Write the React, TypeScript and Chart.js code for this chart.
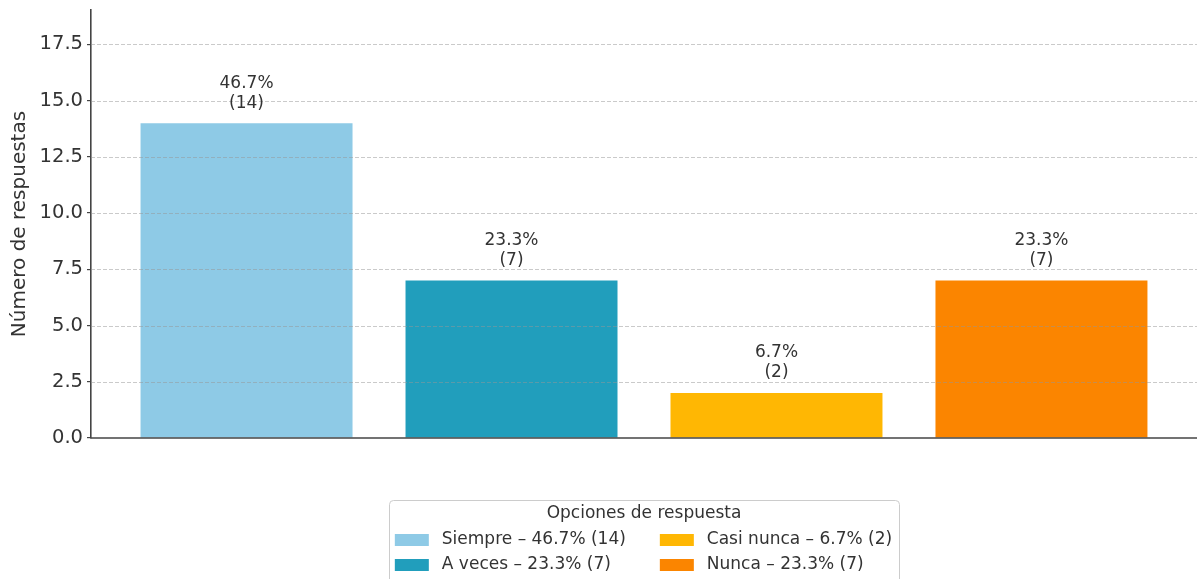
import React, { useEffect, useRef } from "react";
import { Chart, registerables } from "chart.js";

Chart.register(...registerables);

const categories = ["Siempre", "A veces", "Casi nunca", "Nunca"];
const counts = [14, 7, 2, 7];
const barColors = ["#8ECAE6", "#219EBC", "#FFB703", "#FB8500"];
const yAxisTitle = "Número de respuestas";
const legendTitle = "Opciones de respuesta";
const yMin = 0;
const yMax = 19.03;
const yStep = 2.5;
const xMin = -0.587;
const xMax = 3.587;

const FONT = "'DejaVu Sans', sans-serif";
const TEXT = "#333333";

const total = counts.reduce((a, b) => a + b, 0);
const pctText = (c: number) => ((c / total) * 100).toFixed(1) + "%";

const overlayPlugin = {
  id: "overlay",
  afterDatasetsDraw(chart: any) {
    const { ctx, chartArea } = chart;
    const ys = chart.scales.y;
    ctx.save();
    // dashed grid lines over bars
    ctx.strokeStyle = "rgba(150,150,150,0.5)";
    ctx.lineWidth = 1;
    ctx.setLineDash([4, 2]);
    ys.ticks.forEach((t: any) => {
      if (t.value === 0) return;
      const py = Math.round(ys.getPixelForValue(t.value)) + 0.5;
      ctx.beginPath();
      ctx.moveTo(chartArea.left, py);
      ctx.lineTo(chartArea.right, py);
      ctx.stroke();
    });
    ctx.setLineDash([]);
    // bottom axis line
    ctx.strokeStyle = "#444444";
    ctx.lineWidth = 1.6;
    const by = ys.getPixelForValue(0);
    ctx.beginPath();
    ctx.moveTo(chartArea.left - 0.8, by);
    ctx.lineTo(chartArea.right, by);
    ctx.stroke();
    // value labels
    const meta = chart.getDatasetMeta(0);
    ctx.fillStyle = TEXT;
    ctx.font = `17px ${FONT}`;
    ctx.textAlign = "center";
    ctx.textBaseline = "middle";
    meta.data.forEach((el: any, i: number) => {
      ctx.fillText(pctText(counts[i]), el.x, el.y - 40);
      ctx.fillText(`(${counts[i]})`, el.x, el.y - 20);
    });
    ctx.restore();
  },
  afterDraw(chart: any) {
    const { ctx, chartArea } = chart;
    ctx.save();
    ctx.font = `17px ${FONT}`;
    const labels = categories.map((c, i) => `${c} – ${pctText(counts[i])} (${counts[i]})`);
    // column-major, 2 columns x 2 rows
    const col1 = [0, 1];
    const col2 = [2, 3];
    const w1 = Math.max(...col1.map((i) => ctx.measureText(labels[i]).width));
    const w2 = Math.max(...col2.map((i) => ctx.measureText(labels[i]).width));
    const padL = 6, patchW = 34, patchGap = 13, colGap = 34, padR = 7;
    const boxW = padL + patchW + patchGap + w1 + colGap + patchW + patchGap + w2 + padR;
    const cx = (chartArea.left + chartArea.right) / 2;
    const bx = cx - boxW / 2;
    const by = chartArea.bottom + 62;
    const bh = 120;
    // box
    ctx.fillStyle = "rgba(255,255,255,0.9)";
    ctx.strokeStyle = "#cccccc";
    ctx.lineWidth = 1;
    ctx.beginPath();
    (ctx as any).roundRect(Math.round(bx) + 0.5, Math.round(by) + 0.5, Math.round(boxW), bh, 4);
    ctx.fill();
    ctx.stroke();
    // title
    ctx.fillStyle = TEXT;
    ctx.textAlign = "center";
    ctx.textBaseline = "middle";
    ctx.fillText(legendTitle, cx, by + 14);
    // items
    ctx.textAlign = "left";
    const rowY = [by + 40, by + 65];
    const colX = [bx + padL, bx + padL + patchW + patchGap + w1 + colGap];
    [col1, col2].forEach((col, ci) => {
      col.forEach((idx, ri) => {
        const x0 = colX[ci];
        const y0 = rowY[ri];
        ctx.fillStyle = barColors[idx];
        ctx.fillRect(x0, y0 - 6, patchW, 12);
        ctx.fillStyle = TEXT;
        ctx.fillText(labels[idx], x0 + patchW + patchGap, y0);
      });
    });
    ctx.restore();
  },
};

export default function App() {
  const ref = useRef<HTMLCanvasElement>(null);
  useEffect(() => {
    if (!ref.current) return;
    const chart = new Chart(ref.current, {
      type: "bar",
      data: {
        datasets: [
          {
            label: "Respuestas",
            data: counts.map((v, i) => ({ x: i, y: v })),
            backgroundColor: barColors,
            borderWidth: 0,
            barPercentage: 0.8,
            categoryPercentage: 1,
          },
        ],
      },
      options: {
        animation: false,
        responsive: true,
        maintainAspectRatio: false,
        layout: { padding: { left: 0, top: 10, right: 1, bottom: 141 } },
        plugins: {
          legend: { display: false },
          tooltip: { enabled: false },
        },
        scales: {
          x: {
            type: "linear",
            offset: false,
            min: xMin,
            max: xMax,
            ticks: { display: false, stepSize: 1, includeBounds: false },
            grid: { display: false },
            border: { display: false },
            afterFit: (s: any) => {
              s.height = 0;
              s.paddingLeft = 0;
              s.paddingRight = 0;
            },
          },
          y: {
            min: yMin,
            max: yMax,
            ticks: {
              stepSize: yStep,
              includeBounds: false,
              color: TEXT,
              font: { family: FONT, size: 19.5 },
              padding: 4,
              callback: (v: any) => Number(v).toFixed(1),
            },
            grid: {
              display: true,
              drawOnChartArea: false,
              drawTicks: true,
              tickLength: 4,
              color: "#444444",
              lineWidth: 1.2,
            },
            border: { display: true, color: "#444444", width: 1.6 },
            title: {
              display: true,
              text: yAxisTitle,
              color: TEXT,
              font: { family: FONT, size: 20 },
              padding: { top: 7.5, bottom: 0 },
            },
            afterFit: (s: any) => {
              s.width = 91;
              s.paddingTop = 0;
              s.paddingBottom = 0;
            },
          },
        },
      },
      plugins: [overlayPlugin],
    } as any);
    return () => chart.destroy();
  }, []);
  return (
    <div style={{ position: "fixed", left: 0, top: 0, width: 1198, height: 579, background: "#fff" }}>
      <canvas ref={ref} />
    </div>
  );
}
